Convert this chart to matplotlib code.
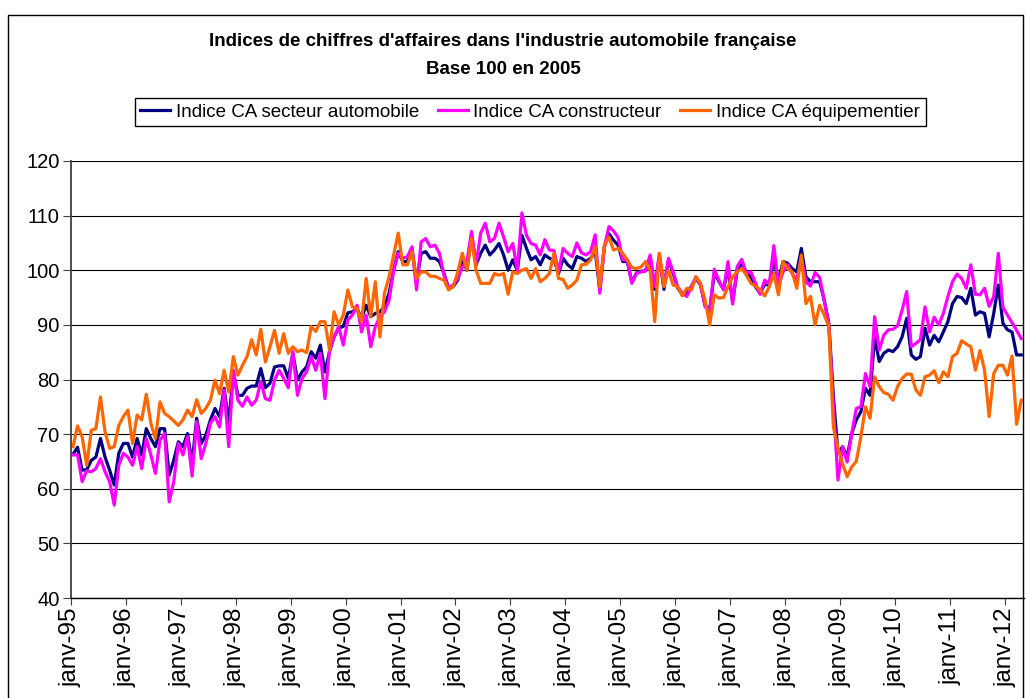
import numpy as np
import matplotlib.pyplot as plt
from matplotlib.patches import Rectangle

plt.rcParams['font.family'] = ['Liberation Sans', 'DejaVu Sans']

# monthly indices, janv-95 .. avr-12
secteur = [
    66.3, 67.6, 63.4, 63.5, 65.2, 65.8, 69.2, 65.8, 63.4, 60.7,
    66.5, 68.3, 68.3, 65.8, 69.2, 66.2, 71.0, 69.2, 67.7, 71.0,
    71.0, 62.5, 65.2, 68.6, 67.7, 70.1, 64.6, 72.9, 68.3, 69.8,
    72.6, 74.7, 73.2, 78.4, 72.0, 81.4, 77.1, 77.1, 78.4, 78.8,
    78.8, 82.0, 78.5, 79.3, 82.3, 82.5, 82.5, 80.2, 84.8, 79.9,
    81.4, 82.3, 85.1, 83.9, 86.3, 81.4, 85.1, 87.8, 89.4, 89.7,
    92.2, 92.4, 93.0, 91.2, 93.6, 91.5, 92.1, 92.4, 93.3, 95.8,
    100.0, 103.4, 101.6, 101.6, 104.0, 97.9, 103.1, 103.4, 102.2, 102.2,
    101.6, 99.4, 96.7, 97.0, 98.2, 101.9, 100.0, 106.4, 101.0, 103.1,
    104.6, 102.8, 103.7, 104.9, 102.8, 100.0, 101.9, 100.0, 106.4, 104.0,
    101.9, 102.5, 101.0,
    102.8, 102.2, 101.9, 99.4, 102.2, 101.0, 100.3, 102.5, 102.2, 101.6,
    102.2, 103.5, 96.4, 104.3, 106.7, 105.5, 104.6, 101.6, 101.6, 97.8,
    99.5, 99.8, 99.9, 102.5, 96.5, 102.5, 96.5, 101.9, 99.5, 96.8,
    95.5, 96.0, 97.0, 98.5, 97.3, 93.5, 92.8, 99.5, 98.0, 96.5,
    100.3, 94.2, 100.0, 101.3, 99.6, 98.8, 97.0, 95.8, 97.4, 97.3,
    102.0,
    98.0, 101.6, 101.3, 100.3, 99.7, 104.0, 98.8, 97.9, 97.9, 97.9,
    94.5, 90.3, 76.9, 66.5, 67.7, 65.9, 70.1, 72.6, 74.1, 78.4,
    77.1, 87.8, 83.3, 84.8, 85.4, 85.1, 86.0, 87.8, 91.2, 84.5,
    83.7, 84.2, 89.4, 86.3, 88.1, 86.9, 88.7, 90.6, 93.9, 95.2,
    95.0, 93.9, 96.7, 91.8, 92.4, 92.1, 87.8, 92.1, 97.3, 90.3,
    89.1, 88.7, 84.5, 84.5,
]

constructeur = [
    66.2, 66.2, 61.3, 63.3, 63.1, 63.7, 65.5, 63.1, 61.3, 57.0,
    64.3, 66.5, 65.8, 64.3, 67.7, 63.7, 69.2, 66.2, 62.8, 68.9,
    70.1, 57.6, 61.3, 68.3, 66.2, 69.5, 62.3, 72.3, 65.5, 68.3,
    72.0, 73.2, 71.3, 78.1, 67.7, 81.7, 76.2, 75.1, 76.8, 75.3,
    76.2, 79.6, 76.5, 76.2, 79.9, 81.7, 80.2, 78.5, 85.1, 77.1,
    80.2, 81.4, 84.2, 81.7, 84.8, 76.5, 85.4, 87.8, 89.7, 86.3,
    90.9, 91.8, 93.6, 88.7, 91.8, 86.0, 89.7, 91.5, 92.4, 94.5,
    100.0, 103.1, 102.2, 102.5, 104.3, 96.4, 105.2, 105.8, 104.3, 104.6,
    103.1, 99.1, 96.7, 97.3, 98.5, 100.6, 101.6, 107.1, 101.0, 106.8,
    108.6, 105.2, 105.8, 108.6, 106.1, 103.4, 104.9, 100.0, 110.5, 106.4,
    104.9, 104.6, 102.8,
    105.6, 103.7, 103.6, 99.7, 104.0, 103.1, 102.5, 105.0, 103.2, 102.8,
    103.4, 106.5, 95.8, 104.3, 108.0, 107.2, 106.0, 101.9, 101.9, 97.6,
    99.4, 99.7, 99.9, 102.8, 97.0, 103.0, 97.0, 102.2, 99.7, 97.0,
    95.8, 95.2, 97.0, 98.8, 97.3, 93.3, 92.4, 100.2, 98.2, 96.4,
    101.6, 93.8, 100.7, 102.0, 99.4, 99.7, 97.6, 95.6, 98.2, 97.4,
    104.5,
    97.1, 99.7, 101.0, 99.4, 98.2, 102.5, 97.9, 97.1, 99.6, 98.7,
    94.5, 90.0, 75.0, 61.6, 67.7, 64.9, 70.1, 74.7, 75.0, 81.1,
    78.7, 91.5, 85.4, 88.1, 89.1, 89.2, 89.8, 92.7, 96.1, 86.0,
    86.6, 87.3, 93.3, 88.7, 91.4, 90.0, 92.1, 95.2, 97.9, 99.3,
    98.5, 96.7, 101.0, 95.6, 95.5, 96.7, 93.4, 95.2, 103.1, 93.2,
    91.8, 90.4, 89.0, 87.5,
]

equipementier = [
    67.7, 71.5, 69.5, 64.3, 70.7, 71.0, 76.8, 70.4, 67.4, 67.7,
    71.6, 73.2, 74.4, 68.3, 73.5, 72.6, 77.3, 72.0, 69.2, 75.9,
    73.8, 73.2, 72.4, 71.6, 72.6, 74.4, 73.2, 76.3, 73.8, 74.7,
    76.2, 79.9, 77.4, 81.7, 77.7, 84.2, 80.8, 82.6, 84.2, 87.3,
    84.5, 89.2, 83.2, 86.0, 89.0, 84.8, 88.4, 84.8, 86.0, 85.1,
    85.4,
    84.9, 89.7, 88.8, 90.6, 90.6, 85.4, 92.4, 90.0, 91.8, 96.4,
    93.3, 93.0, 90.6, 98.5, 91.5, 97.9, 87.8, 95.8, 98.8, 102.8,
    106.8, 101.0, 101.0, 103.4, 98.5, 99.7, 99.7, 98.9, 98.9, 98.5,
    98.2, 96.4, 97.0, 99.7, 103.1, 100.0, 105.8, 100.0, 97.6, 97.6,
    97.6, 99.4, 99.1, 99.4, 95.6, 99.7, 99.4, 100.0, 100.3, 98.5,
    100.3, 97.9,
    98.5, 99.4, 103.1, 98.5, 98.3, 96.7, 97.3, 98.2, 101.0, 101.1,
    101.9, 104.3, 97.0, 104.6, 106.1, 103.7, 104.0, 103.1, 101.9, 100.5,
    100.3, 100.6, 101.6, 100.0, 90.6, 103.1, 97.0, 100.0, 97.3, 97.0,
    95.3, 96.7, 96.4, 98.8, 97.6, 94.5, 90.0, 95.5, 94.9, 95.0,
    97.0, 98.8, 99.7, 100.3, 99.1, 97.6, 97.1, 96.4, 95.3, 97.0,
    99.4,
    95.5, 101.6, 100.3, 99.7, 96.7, 102.8, 93.9, 95.2, 90.0, 93.6,
    91.8, 89.7, 71.3, 67.4, 64.6, 62.2, 64.0, 65.0, 69.5, 75.0,
    72.9, 80.5, 78.7, 77.6, 77.3, 76.2, 78.7, 80.2, 81.0, 81.0,
    78.1, 77.1, 80.5, 80.8, 81.6, 79.4, 81.4, 80.5, 84.2, 84.8,
    87.1, 86.5, 86.0, 81.7, 85.3, 81.7, 73.2, 81.1, 82.6, 82.6,
    80.8, 84.3, 71.8, 76.2,
]

tick_labels = ['janv-%02d' % (y % 100) for y in range(1995, 2013)]

W, H = 1026, 698
fig = plt.figure(figsize=(W / 100, H / 100), dpi=100)

# chart area border
fig.patches.append(Rectangle((8 / W, -0.1), (1023 - 8) / W, 1.1 - 15 / H,
                             transform=fig.transFigure, fill=False,
                             edgecolor='black', lw=1.0))

ax = fig.add_axes([70.7 / W, 1 - 598 / H, (1023.5 - 70.7) / W, (598 - 161) / H])

n = len(secteur)
x = np.arange(n) + 0.5
ax.plot(x, secteur, color='#000080', lw=2.3, label='Indice CA secteur automobile')
ax.plot(x, constructeur, color='#FF00FF', lw=2.3, label='Indice CA constructeur')
ax.plot(x, equipementier, color='#FF6600', lw=2.3, label='Indice CA équipementier')

ax.set_xlim(0, 208)
ax.set_ylim(40, 120)
ax.set_yticks(range(40, 121, 10))
ax.yaxis.grid(True, color='black', lw=0.8)
ax.set_axisbelow(True)
ax.set_xticks(np.arange(0, 205, 12))
ax.set_xticklabels(tick_labels, rotation=90)
ax.tick_params(axis='y', labelsize=14.5, direction='out', length=6, color='#404040', pad=2)
ax.tick_params(axis='x', labelsize=17.5, direction='out', length=5, color='#404040', pad=2)

for s in ['top', 'right']:
    ax.spines[s].set_visible(False)
ax.spines['left'].set_color('#404040')
ax.spines['left'].set_linewidth(1.3)
ax.spines['bottom'].set_color('black')
ax.spines['bottom'].set_linewidth(1.0)

fig.text(503 / W, 1 - 42 / H, "Indices de chiffres d'affaires dans l'industrie automobile française",
         ha='center', va='center', fontsize=13.5, fontweight='bold')
fig.text(503 / W, 1 - 70 / H, "Base 100 en 2005",
         ha='center', va='center', fontsize=13.5, fontweight='bold')

leg = fig.legend(loc='center', bbox_to_anchor=(530 / W, 1 - 112 / H), ncol=3,
                 fontsize=13.5, frameon=True, fancybox=False, edgecolor='black',
                 handlelength=1.6, handletextpad=0.3, columnspacing=1.0,
                 borderpad=0.3, framealpha=1)
leg.get_frame().set_linewidth(1.0)

fig.savefig('out.png', dpi=100)
